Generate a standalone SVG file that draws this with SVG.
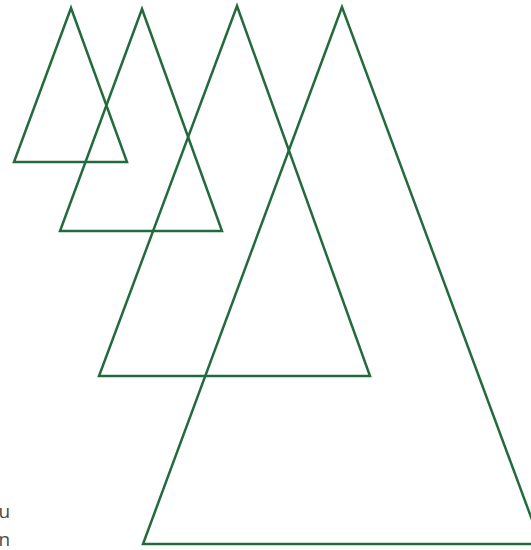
<svg xmlns="http://www.w3.org/2000/svg" width="531" height="550" viewBox="0 0 531 550">
<style>
.tri{fill:none;stroke:#236b3d;stroke-width:2.5;stroke-linejoin:miter}
.lbl{font-family:"Open Sans","Liberation Sans",sans-serif;font-size:19px;fill:#4a4a4a}
</style>
<rect width="531" height="550" fill="#fff"/>
<g id="t1"><polygon class="tri" points="71,8 14,162 127,162"/></g>
<g id="t2"><polygon class="tri" points="142,9 60,231 222,231"/></g>
<g id="t3"><polygon class="tri" points="237,6 99,376 370,376"/></g>
<g id="t4"><polygon class="tri" points="342,7 143,544 541,544"/></g>
<text class="lbl" x="-1.5" y="518">u</text>
<text class="lbl" x="-1.5" y="546">n</text>
</svg>
